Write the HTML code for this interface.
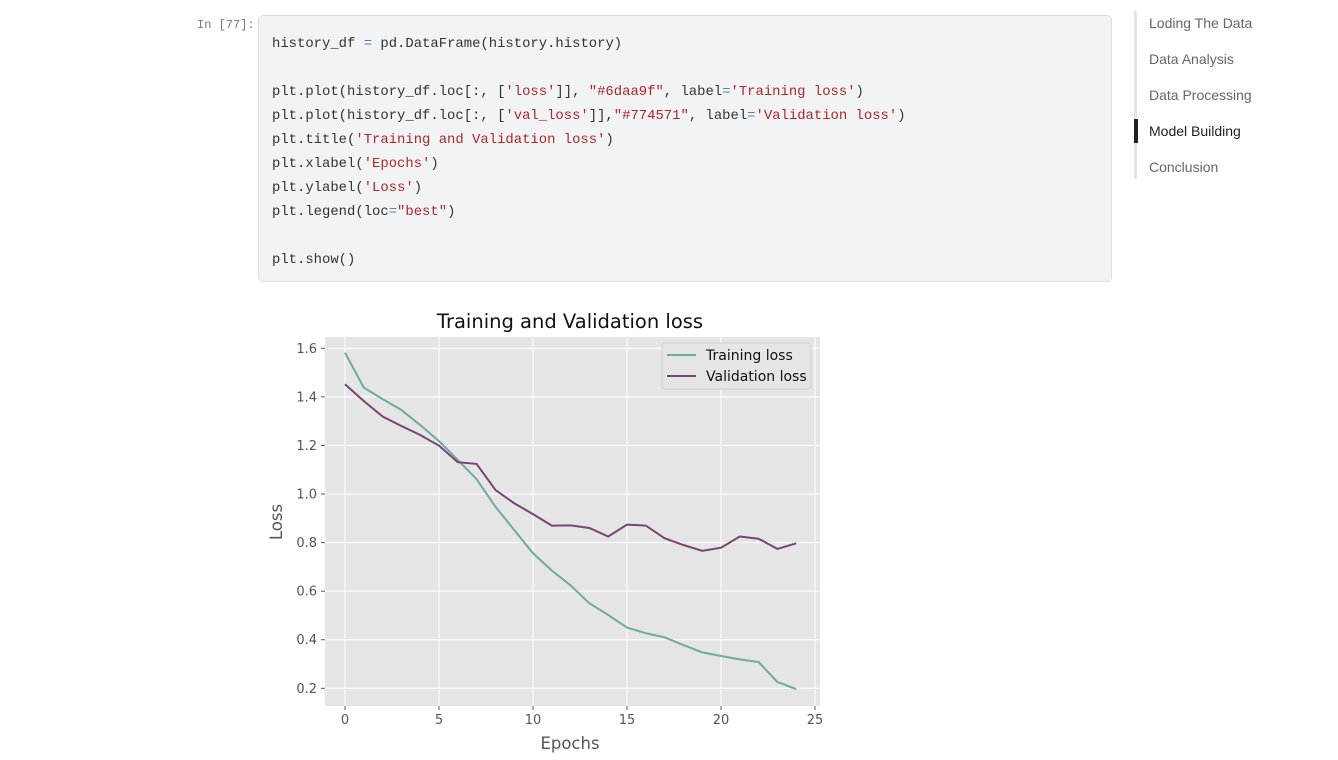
<!DOCTYPE html>
<html><head><meta charset="utf-8"><style>
body{margin:0;width:1338px;height:760px;background:#fff;position:relative;overflow:hidden;font-family:"Liberation Sans",sans-serif}
.prompt{position:absolute;left:197px;top:18px;font:12px "Liberation Mono",monospace;color:#777}
.code{position:absolute;left:258px;top:15px;width:854px;height:267px;background:#f2f3f5;border:1px solid #dcdde0;border-radius:5px;box-sizing:border-box}
.code pre{margin:0;position:absolute;left:13px;top:16px;font:13.9px/24px "Liberation Mono",monospace;color:#333}
.s{color:#b0262b}.o{color:#5a7ca8}
.toc{position:absolute;left:1134px;top:11px;border-left:3px solid #e6e6e6;height:168px}
.toc div{position:absolute;left:12px;font-size:14px;color:#666;white-space:nowrap}
.toc .act{color:#222}
.toc .bar{position:absolute;left:-3px;top:108px;width:4px;height:24px;background:#222}
</style></head><body>
<div class="prompt">In [77]:</div>
<div class="code"><pre>history_df <span class="o">=</span> pd.DataFrame(history.history)

plt.plot(history_df.loc[:, [<span class="s">'loss'</span>]], <span class="s">"#6daa9f"</span>, label<span class="o">=</span><span class="s">'Training loss'</span>)
plt.plot(history_df.loc[:, [<span class="s">'val_loss'</span>]],<span class="s">"#774571"</span>, label<span class="o">=</span><span class="s">'Validation loss'</span>)
plt.title(<span class="s">'Training and Validation loss'</span>)
plt.xlabel(<span class="s">'Epochs'</span>)
plt.ylabel(<span class="s">'Loss'</span>)
plt.legend(loc<span class="o">=</span><span class="s">"best"</span>)

plt.show()</pre></div>
<div class="toc">
<div class="bar"></div>
<div style="top:4px">Loding The Data</div>
<div style="top:40px">Data Analysis</div>
<div style="top:76px">Data Processing</div>
<div class="act" style="top:112px">Model Building</div>
<div style="top:148px">Conclusion</div>
</div>
<svg id="chart" width="1338" height="760" style="position:absolute;left:0;top:0"></svg>
<script>
const epochs=[0,1,2,3,4,5,6,7,8,9,10,11,12,13,14,15,16,17,18,19,20,21,22,23,24];
const trainLoss=[1.582,1.438,1.391,1.346,1.284,1.218,1.140,1.061,0.948,0.852,0.756,0.685,0.624,0.550,0.502,0.450,0.427,0.410,0.378,0.348,0.333,0.319,0.308,0.226,0.197];
const valLoss=[1.452,1.383,1.319,1.280,1.243,1.199,1.131,1.124,1.017,0.962,0.917,0.870,0.871,0.860,0.825,0.874,0.870,0.818,0.790,0.766,0.779,0.825,0.816,0.774,0.797];
const xTicks=[0,5,10,15,20,25];
const yTicks=[0.2,0.4,0.6,0.8,1.0,1.2,1.4,1.6];
const NS="http://www.w3.org/2000/svg";
const svg=document.getElementById('chart');
const L=325,R=820,T=337,B=706;
const sx=v=>345+v*(815-345)/25;
const sy=v=>688.3-(v-0.2)*(688.3-348.3)/1.4;
function mk(tag,attrs,parent){const e=document.createElementNS(NS,tag);for(const k in attrs)e.setAttribute(k,attrs[k]);(parent||svg).appendChild(e);return e;}
let bg=mk('rect',{x:L,y:T,width:R-L,height:B-T,fill:'#e5e5e5'});


xTicks.forEach(t=>{
 let g=mk('line',{x1:sx(t),x2:sx(t),y1:T,y2:B,stroke:'#fff','stroke-width':1});
 
 
 mk('line',{x1:sx(t),x2:sx(t),y1:B,y2:B+4,stroke:'#555'});
 let tx=mk('text',{x:sx(t),y:B+18,'text-anchor':'middle','font-size':13,fill:'#555','font-family':'DejaVu Sans, sans-serif'});
 tx.textContent=t;
 
 
});
yTicks.forEach(t=>{
 let g=mk('line',{x1:L,x2:R,y1:sy(t),y2:sy(t),stroke:'#fff','stroke-width':1});
 
 
 mk('line',{x1:L-4,x2:L,y1:sy(t),y2:sy(t),stroke:'#555'});
 let tx=mk('text',{x:L-8,y:sy(t)+4.5,'text-anchor':'end','font-size':13,fill:'#555','font-family':'DejaVu Sans, sans-serif'});
 tx.textContent=t.toFixed(1);
 
 
});
function line(data,color,name){
 const p=mk('polyline',{points:data.map((v,i)=>sx(epochs[i])+','+sy(v)).join(' '),fill:'none',stroke:color,'stroke-width':2});
 
 
}
line(trainLoss,'#6daa9f','training-loss-line');
line(valLoss,'#774571','validation-loss-line');
let title=mk('text',{x:570,y:328,'text-anchor':'middle','font-size':19.5,fill:'#111','font-family':'DejaVu Sans, sans-serif'});
title.textContent='Training and Validation loss';


let xl=mk('text',{x:570,y:749,'text-anchor':'middle','font-size':16.5,fill:'#555','font-family':'DejaVu Sans, sans-serif'});
xl.textContent='Epochs';


let yl=mk('text',{x:282,y:522,'text-anchor':'middle','font-size':16.5,fill:'#555','font-family':'DejaVu Sans, sans-serif',transform:'rotate(-90 282 522)'});
yl.textContent='Loss';


const lg=mk('g',{});


mk('rect',{x:662,y:343,width:149,height:46,rx:3,fill:'#e5e5e5',stroke:'#d0d0d0'},lg);
[['Training loss','#6daa9f',355],['Validation loss','#774571',376]].forEach(([n,c,y])=>{
 mk('line',{x1:667,x2:696,y1:y,y2:y,stroke:c,'stroke-width':2},lg);
 let t=mk('text',{x:706,y:y+5,'font-size':14,fill:'#111','font-family':'DejaVu Sans, sans-serif'},lg);
 t.textContent=n;
 
 
});
</script>
</body></html>
